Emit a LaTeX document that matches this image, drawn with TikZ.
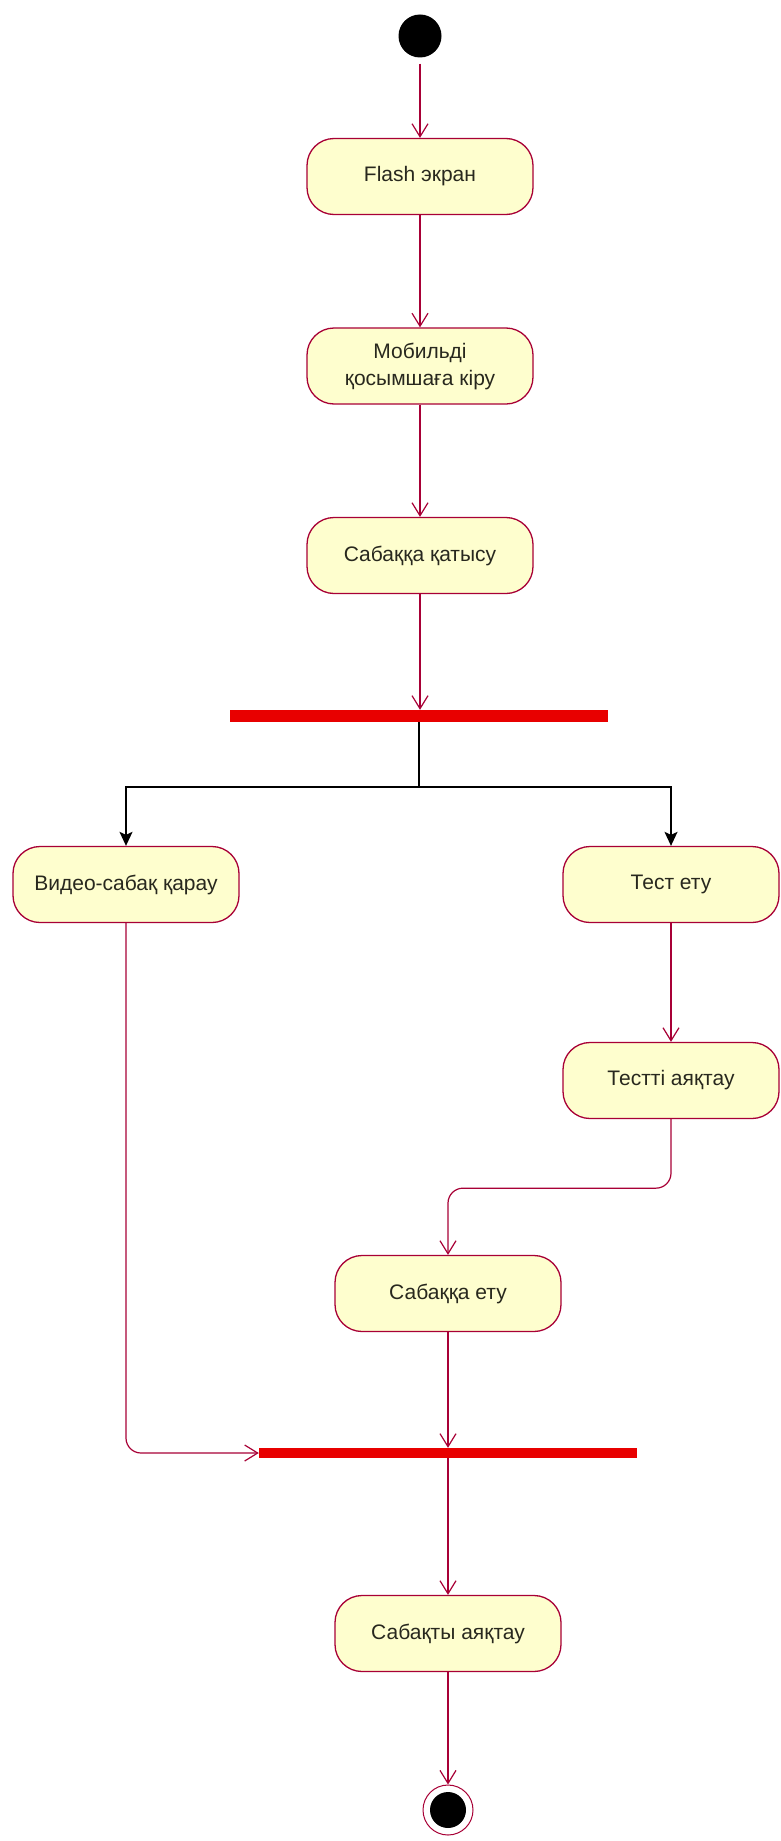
\documentclass[tikz,border=0pt]{standalone}
\usepackage{fontspec}
\setmainfont{Liberation Sans}
\usetikzlibrary{arrows.meta}
\definecolor{umlred}{HTML}{A80036}
\definecolor{umlfill}{HTML}{FEFECE}
\definecolor{barred}{RGB}{232,0,0}
\definecolor{txt}{RGB}{40,40,30}
\tikzset{
  act/.style={draw=umlred, fill=umlfill, line width=1.3pt, rounded corners=27pt,
    minimum width=226pt, minimum height=76pt, inner sep=0pt, align=center,
    text=txt, font=\fontsize{21}{27}\selectfont},
  narrowact/.style={act, minimum width=216pt},
  syncbar/.style={fill=barred, draw=none, inner sep=0pt, minimum width=378pt},
  flow/.style={draw=umlred, line width=1.2pt,
    -{Straight Barb[length=13pt,width=16pt,line width=1.2pt]}},
  forkflow/.style={draw=black, line width=1.5pt,
    -{Stealth[length=14pt,width=13pt,inset=3pt]}},
}
\begin{document}
\begin{tikzpicture}[x=1pt,y=-1pt]
  \useasboundingbox (0,0) rectangle (780,1841);
  \fill[white] (0,0) rectangle (780,1841);
  \clip (0,0) rectangle (780,1841);

  % initial and final states
  \node[circle, fill=black, minimum size=43pt, inner sep=0pt] (start) at (420,36) {};
  \node[circle, draw=umlred, fill=white, line width=1pt, minimum size=50pt, inner sep=0pt] (finish) at (448,1810) {};
  \fill[black] (finish.center) circle (18pt);

  % activities
  \node[act] (flash)  at (420,176.5) {Flash экран};
  \node[act] (mobile) at (420,366)   {Мобильді\\қосымшаға кіру};
  \node[act] (attend) at (420,555.5) {Сабаққа қатысу};
  \node[act] (video)  at (126,884.5) {Видео-сабақ қарау};
  \node[narrowact] (test)    at (671,884.5)  {Тест ету};
  \node[narrowact] (testend) at (671,1080.5) {Тестті аяқтау};
  \node[act] (lesson) at (448,1293.5) {Сабаққа ету};
  \node[act] (finishlesson) at (448,1633.5) {Сабақты аяқтау};

  % fork and join bars
  \node[syncbar, minimum height=12pt] (fork) at (419,716) {};
  \node[syncbar, minimum height=10pt] (join) at (448,1453) {};

  % control flow
  \draw[flow, shorten <=6pt] (start) -- (flash);
  \draw[flow] (flash) -- (mobile);
  \draw[flow] (mobile) -- (attend);
  \draw[flow] (attend.south) -- (attend.south |- fork.north);
  \draw[forkflow] (fork.south) -- ++(0,65) -| (video.north);
  \draw[forkflow] (fork.south) -- ++(0,65) -| (test.north);
  \draw[flow] (test) -- (testend);
  \draw[flow, rounded corners=15pt] (testend.south) -- ++(0,69) -| (lesson.north);
  \draw[flow] (lesson.south) -- (lesson.south |- join.north);
  \draw[flow, rounded corners=15pt] (video.south) |- (join.west);
  \draw[flow] (join.south -| finishlesson.north) -- (finishlesson.north);
  \draw[flow] (finishlesson) -- (finish);
\end{tikzpicture}
\end{document}
